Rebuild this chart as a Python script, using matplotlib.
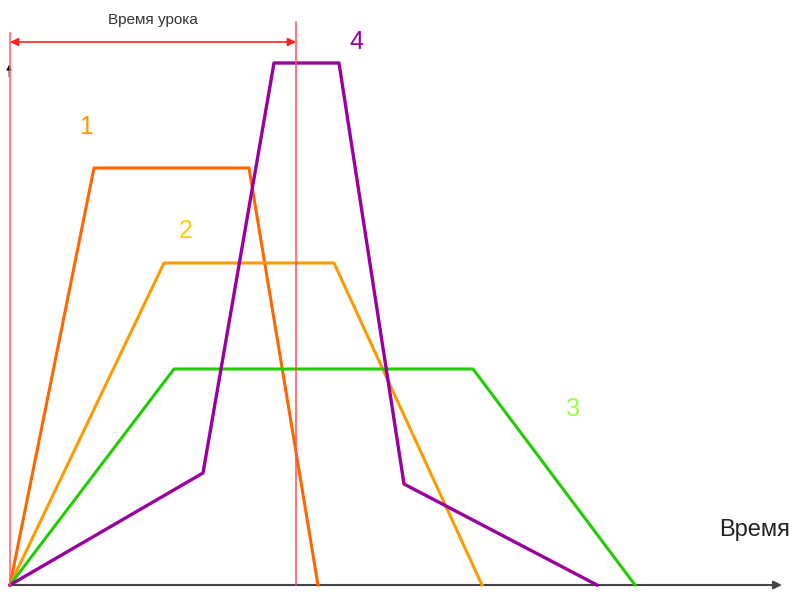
import matplotlib
matplotlib.use("Agg")
import matplotlib.pyplot as plt

plt.rcParams['font.family'] = ['Liberation Sans', 'DejaVu Sans']

# Data (time, intensity) for each lesson type
x1 = [0, 84, 239, 308]
y1 = [0, 417, 417, 0]
x2 = [0, 154, 324, 472]
y2 = [0, 322, 322, 0]
x3 = [0, 164, 463, 625]
y3 = [0, 216, 216, 0]
x4 = [0, 193, 264, 329, 394, 587]
y4 = [0, 112, 522, 522, 101, 0]
lesson_end = 286
labels = ["1", "2", "3", "4"]
label_pos = [(76, 458), (176, 354), (563, 176), (346, 543)]

fig = plt.figure(figsize=(7.94, 5.93), dpi=100)
ax = fig.add_axes([0, 0, 1, 1])
ax.set_xlim(-10, 784)
ax.set_ylim(-8, 585)
ax.axis("off")

# lesson boundary lines
ax.plot([0, 0], [0, 552], color="#FF6060", lw=1.1, zorder=5)
ax.plot([lesson_end, lesson_end], [0, 563], color="#FF5050", lw=1.1, zorder=5)
ax.annotate("", xy=(0, 543), xytext=(lesson_end, 543),
            arrowprops=dict(arrowstyle="<|-|>", color="#FF2020", lw=1.2,
                            mutation_scale=12, shrinkA=0, shrinkB=0))
ax.text(lesson_end / 2, 565, "Время урока", ha="center", va="center",
        fontsize=11, color="#333333")

# axes arrows
ax.annotate("", xy=(772, 0), xytext=(0, 0),
            arrowprops=dict(arrowstyle="-|>", color="#444444", lw=1.5,
                            mutation_scale=12, shrinkA=0, shrinkB=0))
ax.annotate("", xy=(-1, 520), xytext=(-1, 508),
            arrowprops=dict(arrowstyle="-|>", color="black", lw=0.5,
                            mutation_scale=8, shrinkA=0, shrinkB=0))
ax.text(745, 55, "Время", ha="center", va="center", fontsize=17, color="#222222")

ax.plot(x1, y1, color="#FF6600", lw=2.2, zorder=3)
ax.plot(x2, y2, color="#FF9900", lw=2.2, zorder=3)
ax.plot(x3, y3, color="#22CC00", lw=2.2, zorder=3)
ax.plot(x4, y4, color="#9900A0", lw=2.4, zorder=4)

label_colors = ["#FF9900", "#FFCC00", "#99FF33", "#9900A0"]
for lab, (lx, ly), c in zip(labels, label_pos, label_colors):
    ax.text(lx, ly, lab, ha="center", va="center", fontsize=18, color=c)

fig.savefig("out.png", dpi=100)
